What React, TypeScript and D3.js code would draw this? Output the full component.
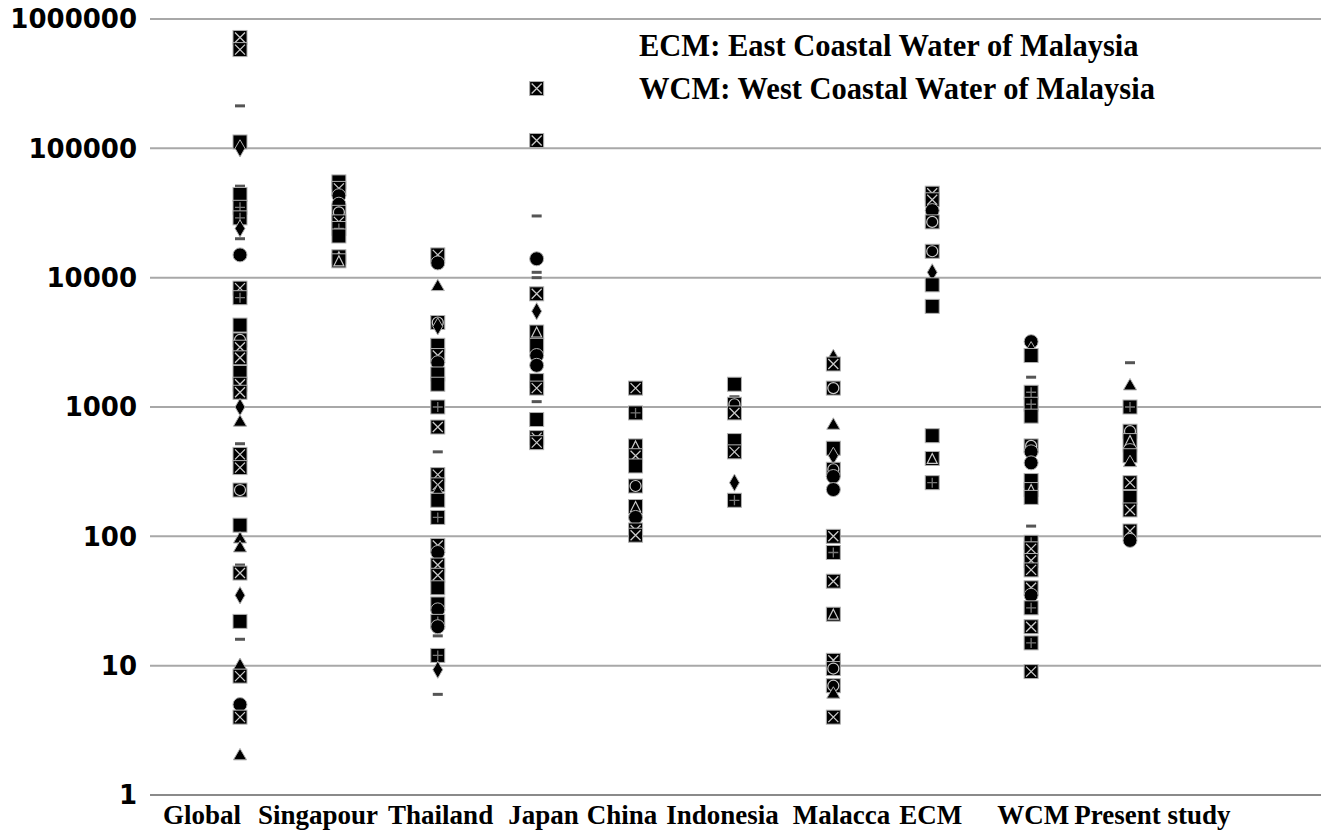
import React from 'react';
import * as d3 from 'd3';

// Marker kinds (Excel-style markers)
// sqx: black square with light X, sq: black square, sqp: square with plus,
// sqt: square with triangle outline, sqo: square with circle outline,
// ci: black circle, tr: triangle, di: diamond, da: short dash
type Kind = 'sqx' | 'sq' | 'sqp' | 'sqt' | 'sqo' | 'ci' | 'tr' | 'di' | 'da';
type Pt = [number, Kind];

const categories = ['Global', 'Singapour', 'Thailand', 'Japan', 'China', 'Indonesia', 'Malacca', 'ECM', 'WCM', 'Present study'];

const globalPts: Pt[] = [
  [720000, 'sqx'], [580000, 'sqx'], [213000, 'da'], [112000, 'sq'], [100000, 'di'],
  [51000, 'da'], [44000, 'sq'], [35000, 'sqp'], [29000, 'sqp'], [24000, 'di'], [20000, 'da'],
  [15000, 'ci'], [8300, 'sqx'], [7000, 'sqp'], [4300, 'sq'], [3300, 'sqo'], [2900, 'sqx'],
  [2400, 'sqx'], [1850, 'sq'], [1500, 'sqx'], [1300, 'sqx'], [1000, 'di'], [760, 'tr'],
  [520, 'da'], [430, 'sqx'], [340, 'sqx'], [228, 'sqo'], [122, 'sq'], [95, 'tr'], [81, 'tr'],
  [60, 'da'], [52, 'sqx'], [35, 'di'], [22, 'sq'], [16, 'da'], [10, 'tr'], [8.3, 'sqx'],
  [5, 'ci'], [4, 'sqx'], [2, 'tr'],
];

const singapourPts: Pt[] = [
  [55000, 'sq'], [49000, 'sqx'], [43000, 'ci'], [37000, 'ci'], [32000, 'sqo'],
  [27000, 'sqx'], [24000, 'sqp'], [21000, 'sq'], [14500, 'sqt'], [13500, 'sqt'],
];

const thailandPts: Pt[] = [
  [15000, 'sqx'], [13000, 'ci'], [8500, 'tr'], [4500, 'sqo'], [4200, 'di'], [3000, 'sq'],
  [2500, 'sqx'], [2200, 'ci'], [1800, 'sq'], [1500, 'sq'], [1000, 'sqp'], [700, 'sqx'],
  [450, 'da'], [300, 'sqx'], [250, 'sqx'], [220, 'tr'], [190, 'sq'], [140, 'sqp'],
  [85, 'sqx'], [75, 'ci'], [60, 'sqx'], [50, 'sqx'], [40, 'sq'], [30, 'sq'], [27, 'ci'],
  [22, 'sqp'], [20, 'ci'], [17, 'da'], [12, 'sqp'], [9.3, 'di'], [6, 'da'],
];

const japanPts: Pt[] = [
  [290000, 'sqx'], [115000, 'sqx'], [30000, 'da'], [14000, 'ci'], [11000, 'da'], [10000, 'da'],
  [7500, 'sqx'], [5500, 'di'], [3800, 'sqt'], [3000, 'sq'], [2500, 'ci'], [2100, 'ci'],
  [1600, 'sq'], [1400, 'sqx'], [1100, 'da'], [800, 'sq'], [580, 'sqx'], [530, 'sqx'],
];

const chinaPts: Pt[] = [
  [1400, 'sqx'], [900, 'sqp'], [500, 'sqt'], [420, 'sqx'], [350, 'sq'], [245, 'sqo'],
  [170, 'sqt'], [140, 'ci'], [112, 'sqx'], [102, 'sqx'],
];

const indonesiaPts: Pt[] = [
  [1500, 'sq'], [1200, 'da'], [1050, 'sqo'], [900, 'sqx'], [550, 'sq'], [450, 'sqx'],
  [260, 'di'], [190, 'sqp'],
];

const malaccaPts: Pt[] = [
  [2400, 'di'], [2150, 'sqx'], [1400, 'sqo'], [720, 'tr'], [480, 'sq'], [420, 'di'],
  [330, 'sqo'], [290, 'ci'], [230, 'ci'], [100, 'sqx'], [75, 'sqp'], [45, 'sqx'],
  [25, 'sqt'], [11, 'sqx'], [9.5, 'sqo'], [7, 'sqo'], [6, 'tr'], [4, 'sqx'],
];

const ecmPts: Pt[] = [
  [45000, 'sqx'], [40000, 'sqx'], [33000, 'ci'], [27000, 'sqo'], [16000, 'sqo'],
  [11000, 'di'], [8800, 'sq'], [6000, 'sq'], [600, 'sq'], [400, 'sqt'], [260, 'sqp'],
];

const wcmPts: Pt[] = [
  [3200, 'ci'], [2800, 'tr'], [2500, 'sq'], [1700, 'da'], [1300, 'sqp'], [1050, 'sqp'],
  [850, 'sq'], [500, 'sqo'], [450, 'ci'], [370, 'ci'], [270, 'sq'], [230, 'sqt'],
  [200, 'sq'], [120, 'da'], [90, 'sqp'], [80, 'sqx'], [65, 'sqx'], [55, 'sqx'],
  [40, 'sqx'], [35, 'ci'], [28, 'sqp'], [20, 'sqx'], [15, 'sqp'], [9, 'sqx'],
];

const presentPts: Pt[] = [
  [2200, 'da'], [1450, 'tr'], [1000, 'sqp'], [650, 'sqo'], [550, 'sqt'], [460, 'ci'],
  [420, 'sq'], [370, 'tr'], [260, 'sqx'], [200, 'sq'], [160, 'sqx'], [110, 'sqx'], [93, 'ci'],
];

const seriesByCategory: Pt[][] = [
  globalPts, singapourPts, thailandPts, japanPts, chinaPts,
  indonesiaPts, malaccaPts, ecmPts, wcmPts, presentPts,
];

const yTicks = [1, 10, 100, 1000, 10000, 100000, 1000000];

const legendLines = [
  'ECM: East Coastal Water of Malaysia',
  'WCM: West Coastal Water of Malaysia',
];

const W = 1321;
const H = 832;
const margin = { top: 19, right: 0, bottom: 37, left: 150 };
// spacing between the hand-typed category labels (they flow as one row)
const labelGaps = [0, 17, 10, 15, 8, 9, 14, 9, 35, 5];

const Marker: React.FC<{ kind: Kind; x: number; y: number }> = ({ kind, x, y }) => {
  const s = 14;
  const h = s / 2;
  const inner = '#c8c8c8';
  const edge = '#b0b0b0';
  if (kind === 'da') {
    return <rect x={x - 5} y={y - 1.5} width={10} height={3} fill="#555" />;
  }
  if (kind === 'ci') {
    return <circle cx={x} cy={y} r={7} fill="#000" stroke={edge} strokeWidth={1} />;
  }
  if (kind === 'tr' || kind === 'di') {
    const path = d3.symbol()
      .type(kind === 'tr' ? d3.symbolTriangle : d3.symbolDiamond)
      .size(kind === 'tr' ? 75 : 85)();
    return <path d={path || ''} transform={`translate(${x},${y})`} fill="#000" stroke={edge} strokeWidth={1} />;
  }
  return (
    <g transform={`translate(${x},${y})`}>
      <rect x={-h} y={-h} width={s} height={s} fill="#000" stroke={edge} strokeWidth={1} />
      {kind === 'sqx' && (
        <path d={`M${-h + 2},${-h + 2}L${h - 2},${h - 2}M${h - 2},${-h + 2}L${-h + 2},${h - 2}`} stroke={inner} strokeWidth={1.3} />
      )}
      {kind === 'sqp' && (
        <path d={`M0,${-h + 2}V${h - 2}M${-h + 2},0H${h - 2}`} stroke="#777" strokeWidth={1.3} />
      )}
      {kind === 'sqt' && (
        <path d={`M0,${-h + 2}L${h - 2},${h - 2}L${-h + 2},${h - 2}Z`} fill="none" stroke={inner} strokeWidth={1.2} />
      )}
      {kind === 'sqo' && <circle r={h - 1.5} fill="none" stroke={inner} strokeWidth={1.2} />}
    </g>
  );
};

const App: React.FC = () => {
  const y = d3.scaleLog().domain([1, 1000000]).range([H - margin.bottom, margin.top]);
  const x = d3.scalePoint<string>()
    .domain(categories)
    .range([240, 1130]);

  return (
    <svg width={W} height={H} style={{ position: 'absolute', left: 0, top: 0, background: '#fff' }}>
      {/* Grid lines */}
      {yTicks.map(t => (
        <line
          key={`g${t}`}
          x1={margin.left}
          x2={W}
          y1={y(t)}
          y2={y(t)}
          stroke={t === 1 ? '#8a8a8a' : '#a8a8a8'}
          strokeWidth={2}
        />
      ))}

      {/* Y tick labels */}
      {yTicks.map(t => (
        <text
          key={`t${t}`}
          x={137}
          y={y(t)}
          dy="0.36em"
          textAnchor="end"
          fontFamily="DejaVu Sans, sans-serif"
          fontWeight="bold"
          fontSize={26}
          fill="#000"
        >
          {t}
        </text>
      ))}

      {/* Category labels, one row */}
      <text
        x={163}
        y={824}
        fontFamily="Liberation Serif, Times New Roman, serif"
        fontWeight="bold"
        fontSize={27}
        fill="#000"
      >
        {categories.map((c, i) => (
          <tspan key={`c${c}`} dx={labelGaps[i]}>{c}</tspan>
        ))}
      </text>

      {/* Points */}
      {seriesByCategory.map((pts, i) => (
        <g key={`s${i}`}>
          {pts.map((p, j) => (
            <Marker key={j} kind={p[1]} x={x(categories[i]) || 0} y={y(p[0])} />
          ))}
        </g>
      ))}

      {/* Legend note */}
      {legendLines.map((l, i) => (
        <text
          key={`l${i}`}
          x={639}
          y={56 + i * 43}
          fontFamily="Liberation Serif, Times New Roman, serif"
          fontWeight="bold"
          fontSize={30.5}
          fill="#000"
        >
          {l}
        </text>
      ))}
    </svg>
  );
};

export default App;
